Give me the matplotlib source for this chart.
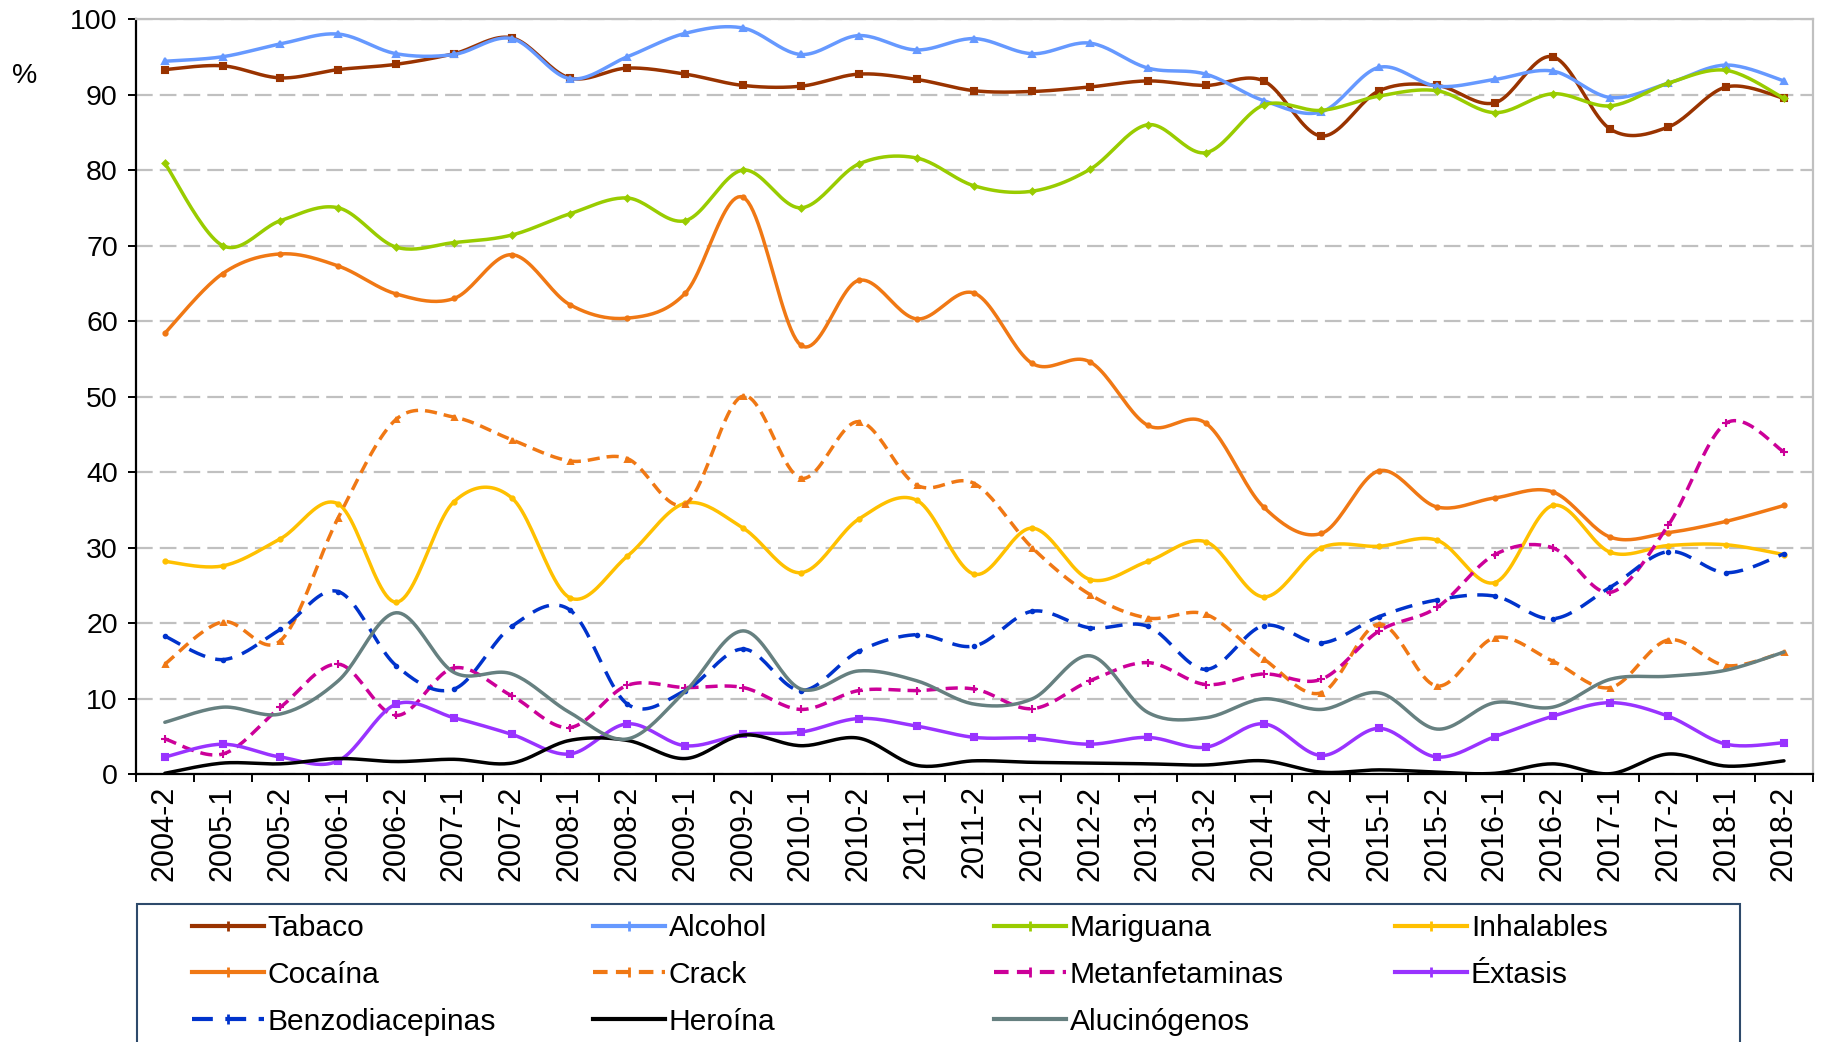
import numpy as np
import matplotlib
matplotlib.use("Agg")
import matplotlib.pyplot as plt
from matplotlib.lines import Line2D
from matplotlib.patches import Rectangle

plt.rcParams["font.family"] = ["Liberation Sans", "DejaVu Sans"]

periods = ["2004-2", "2005-1", "2005-2", "2006-1", "2006-2", "2007-1", "2007-2",
           "2008-1", "2008-2", "2009-1", "2009-2", "2010-1", "2010-2", "2011-1",
           "2011-2", "2012-1", "2012-2", "2013-1", "2013-2", "2014-1", "2014-2",
           "2015-1", "2015-2", "2016-1", "2016-2", "2017-1", "2017-2", "2018-1",
           "2018-2"]

tabaco = [93.3, 93.8, 92.2, 93.3, 94.0, 95.4, 97.5, 92.2, 93.5, 92.7, 91.2, 91.1,
          92.7, 92.0, 90.5, 90.4, 91.0, 91.8, 91.2, 91.8, 84.5, 90.5, 91.2, 88.9,
          95.0, 85.4, 85.7, 91.0, 89.5]
alcohol = [94.4, 95.0, 96.7, 98.0, 95.4, 95.3, 97.4, 92.1, 95.0, 98.1, 98.8, 95.3,
           97.8, 95.9, 97.4, 95.4, 96.8, 93.5, 92.7, 89.2, 87.7, 93.6, 91.1, 92.0,
           93.1, 89.6, 91.5, 93.9, 91.8]
mariguana = [80.9, 70.0, 73.3, 75.0, 69.8, 70.4, 71.4, 74.2, 76.3, 73.3, 80.0, 75.0,
             80.8, 81.6, 77.9, 77.2, 80.1, 86.0, 82.3, 88.6, 87.9, 89.8, 90.5, 87.6,
             90.1, 88.5, 91.5, 93.2, 89.5]
inhalables = [28.2, 27.6, 31.2, 35.8, 22.8, 36.1, 36.6, 23.4, 28.9, 35.9, 32.6, 26.7,
              33.8, 36.3, 26.5, 32.6, 25.8, 28.2, 30.8, 23.5, 30.0, 30.2, 31.0, 25.4,
              35.6, 29.4, 30.3, 30.4, 29.1]
cocaina = [58.4, 66.3, 68.9, 67.3, 63.6, 63.0, 68.8, 62.2, 60.4, 63.7, 76.4, 56.8,
           65.4, 60.3, 63.7, 54.4, 54.6, 46.2, 46.5, 35.4, 31.9, 40.2, 35.4, 36.6,
           37.4, 31.4, 32.0, 33.5, 35.6]
crack = [14.6, 20.2, 17.7, 34.0, 47.0, 47.3, 44.3, 41.5, 41.8, 35.8, 50.1, 39.2,
         46.7, 38.3, 38.5, 30.0, 23.8, 20.7, 21.2, 15.3, 10.8, 19.9, 11.7, 18.1,
         15.0, 11.5, 17.8, 14.4, 16.2]
metanfetaminas = [4.7, 2.7, 8.9, 14.6, 7.8, 14.1, 10.4, 6.2, 11.8, 11.5, 11.5, 8.6,
                  11.1, 11.1, 11.3, 8.7, 12.4, 14.8, 11.9, 13.3, 12.6, 19.0, 22.1,
                  29.1, 30.0, 24.1, 33.0, 46.5, 42.7]
extasis = [2.3, 4.0, 2.3, 1.8, 9.3, 7.5, 5.3, 2.7, 6.7, 3.8, 5.3, 5.6, 7.4, 6.4, 4.9,
           4.8, 4.0, 4.9, 3.6, 6.7, 2.5, 6.1, 2.3, 5.0, 7.7, 9.5, 7.7, 4.0, 4.2]
benzodiacepinas = [18.3, 15.2, 19.2, 24.2, 14.4, 11.3, 19.6, 21.8, 9.3, 11.1, 16.6,
                   11.1, 16.3, 18.5, 17.0, 21.6, 19.4, 19.6, 13.9, 19.7, 17.4, 20.9,
                   23.1, 23.6, 20.6, 24.8, 29.5, 26.7, 29.2]
heroina = [0.15, 1.5, 1.4, 2.1, 1.7, 2.0, 1.5, 4.5, 4.5, 2.1, 5.2, 3.8, 4.8, 1.2,
           1.8, 1.6, 1.5, 1.4, 1.25, 1.8, 0.3, 0.6, 0.3, 0.15, 1.4, 0.1, 2.7, 1.1, 1.8]
alucinogenos = [6.9, 8.9, 8.0, 12.4, 21.4, 13.5, 13.3, 8.2, 4.7, 11.0, 19.0, 11.3,
                13.7, 12.4, 9.3, 10.0, 15.7, 8.2, 7.5, 10.0, 8.6, 10.8, 6.0, 9.5,
                8.9, 12.6, 13.0, 13.8, 16.2]

# (label, values, colour, linestyle, marker, markersize)
series = [
    ("Tabaco", tabaco, "#993300", "-", "s", 4.5),
    ("Alcohol", alcohol, "#6699FF", "-", "^", 5),
    ("Mariguana", mariguana, "#99CC00", "-", "D", 3),
    ("Inhalables", inhalables, "#FFC000", "-", "o", 3),
    ("Cocaína", cocaina, "#F07814", "-", "o", 3),
    ("Crack", crack, "#F07814", (0, (3.5, 2.0)), "^", 3.5),
    ("Metanfetaminas", metanfetaminas, "#CC0099", (0, (3.5, 2.0)), "+", 6),
    ("Éxtasis", extasis, "#9933FF", "-", "s", 4),
    ("Benzodiacepinas", benzodiacepinas, "#0033CC", (0, (5, 3)), "o", 2.5),
    ("Heroína", heroina, "#000000", "-", None, 0),
    ("Alucinógenos", alucinogenos, "#668080", "-", None, 0),
]


def smooth(x, y, steps=24):
    """Bezier smoothing through every point (control points at 1/6 of the
    neighbour difference), like a spreadsheet 'smoothed line'."""
    x = np.asarray(x, float)
    y = np.asarray(y, float)
    px = np.concatenate([[x[0]], x, [x[-1]]])
    py = np.concatenate([[y[0]], y, [y[-1]]])
    t = np.linspace(0, 1, steps)[:, None]
    xs, ys = [], []
    for i in range(1, len(px) - 2):
        p1 = np.array([px[i], py[i]])
        p2 = np.array([px[i + 1], py[i + 1]])
        c1 = p1 + (np.array([px[i + 1], py[i + 1]]) - np.array([px[i - 1], py[i - 1]])) / 6
        c2 = p2 - (np.array([px[i + 2], py[i + 2]]) - p1) / 6
        pts = ((1 - t) ** 3) * p1 + 3 * ((1 - t) ** 2) * t * c1 \
            + 3 * (1 - t) * t ** 2 * c2 + t ** 3 * p2
        xs.append(pts[:, 0])
        ys.append(pts[:, 1])
    return np.concatenate(xs), np.concatenate(ys)


fig = plt.figure(figsize=(18.22, 10.42), dpi=100)
ax = fig.add_axes([0.0746, 0.2568, 0.9204, 0.7250])

x = np.arange(len(periods))
handles = []
for k, (label, vals, color, ls, marker, ms) in enumerate(series):
    sx, sy = smooth(x, vals)
    ax.plot(sx, sy, color=color, lw=2.5, ls=ls, zorder=3 + k * 0.01,
            solid_capstyle="round", dash_capstyle="butt")
    if marker:
        ax.plot(x, vals, ls="none", marker=marker, ms=ms, color=color,
                mec=color, mew=1.5, zorder=3 + k * 0.01)
    handles.append(Line2D([], [], color=color, lw=3.0, ls=ls,
                          marker="|" if marker else None, ms=7, mew=2))

ax.set_xlim(-0.5, len(periods) - 0.5)
ax.set_ylim(0, 100)

# grid and frame
ax.set_yticks(np.arange(0, 101, 10))
ax.yaxis.grid(True, color="#C0C0C0", lw=1.6, ls=(0, (7.5, 3.2)), zorder=0)
ax.set_axisbelow(True)
for side in ("top", "right"):
    ax.spines[side].set_color("#C0C0C0")
    ax.spines[side].set_linewidth(1.6)
for side in ("left", "bottom"):
    ax.spines[side].set_color("black")
    ax.spines[side].set_linewidth(1.6)

ax.tick_params(axis="y", direction="out", length=6, width=1.4, pad=7,
               labelsize=20.5)
ax.set_xticks(x)
ax.set_xticklabels(periods, rotation=90, fontsize=22)
ax.set_xticks(np.arange(-0.5, len(periods)), minor=True)
ax.tick_params(axis="x", which="major", length=0, pad=8)
ax.tick_params(axis="x", which="minor", direction="out", length=6, width=1.4)

fig.text(0.0137, 0.927, "%", fontsize=20.5, ha="center", va="center")

# legend laid out in four evenly spaced columns
ncols = 4
col_x = [0.1055, 0.3256, 0.5457, 0.7658]
for c in range(ncols):
    idx = list(range(c, len(series), ncols))
    fig.legend([handles[i] for i in idx], [series[i][0] for i in idx],
               loc="upper left", bbox_to_anchor=(col_x[c], 0.1228),
               frameon=False, fontsize=21.6, handlelength=2.4,
               handletextpad=0.12, labelspacing=0.63, borderpad=0,
               borderaxespad=0)

fig.patches.append(Rectangle((0.0752, -0.05), 0.8800, 0.1825,
                             transform=fig.transFigure, fill=False,
                             edgecolor="#2E4A6B", lw=1.5))

fig.savefig("out.png", dpi=100)
